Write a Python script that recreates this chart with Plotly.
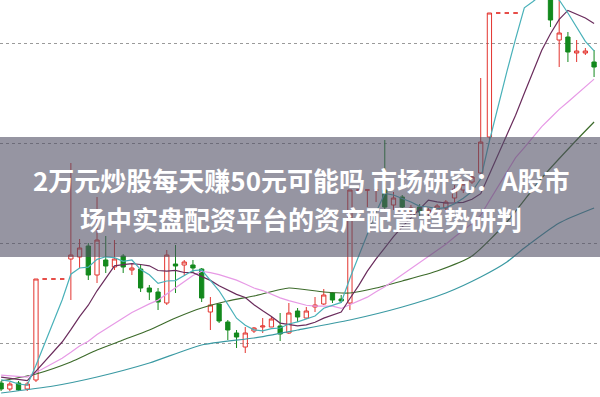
import plotly.graph_objects as go
import numpy as np

# ---------------- data ----------------
day = list(range(69))
open_ = [10.10, 10.04, 10.10, 10.04, 10.13, 11.14, 11.14, 11.14, 11.34, 11.36,
         11.47, 11.18, 11.33, 11.26, 11.37, 11.23, 11.24, 11.05, 11.01, 10.90,
         11.29, 11.28, 11.28, 11.24, 10.81, 10.89, 10.71, 10.60, 10.46, 10.62,
         10.66, 10.66, 10.67, 10.60, 10.82, 10.75, 10.86, 10.89, 11.00, 10.94,
         10.90, 12.03, 12.03, 12.03, 12.03, 11.88, 11.96, 11.81, 11.86, 11.80,
         11.81, 11.85, 11.95, 12.03, 12.11, 12.20, 12.56, 13.80, 13.80, 13.80,
         14.01, 14.07, 14.11, 14.03, 13.53, 13.56, 13.40, 13.40, 13.31]
high = [10.12, 10.11, 10.12, 10.11, 11.14, 11.14, 11.14, 11.14, 12.30, 11.54,
        11.50, 11.96, 11.57, 11.53, 11.39, 11.29, 11.28, 11.08, 11.05, 11.43,
        11.48, 11.33, 11.33, 11.25, 10.96, 10.89, 10.73, 10.63, 10.66, 10.66,
        10.75, 10.76, 10.80, 10.90, 10.85, 10.86, 10.96, 11.04, 11.01, 10.98,
        12.03, 12.03, 12.03, 12.03, 12.53, 12.01, 11.98, 11.88, 11.89, 11.85,
        11.89, 11.93, 12.08, 12.13, 12.18, 13.15, 13.80, 13.80, 13.80, 13.80,
        14.08, 14.15, 14.23, 14.08, 13.98, 13.61, 13.53, 13.45, 13.43]
low = [10.02, 10.02, 10.02, 10.02, 10.11, 11.14, 11.14, 11.14, 10.93, 11.25,
       11.13, 11.10, 11.20, 11.23, 11.20, 11.18, 11.01, 10.93, 10.83, 10.88,
       11.00, 11.18, 11.20, 10.91, 10.63, 10.70, 10.53, 10.45, 10.40, 10.60,
       10.60, 10.66, 10.52, 10.59, 10.71, 10.74, 10.81, 10.88, 10.90, 10.90,
       10.83, 12.03, 11.86, 11.91, 11.83, 11.83, 11.81, 11.78, 11.77, 11.76,
       11.79, 11.80, 11.91, 12.00, 12.09, 12.15, 12.53, 13.80, 13.80, 13.80,
       13.96, 14.03, 14.05, 13.66, 13.26, 13.31, 13.31, 13.38, 13.16]
close = [10.04, 10.09, 10.03, 10.09, 11.14, 11.14, 11.14, 11.14, 11.38, 11.45,
         11.18, 11.53, 11.27, 11.34, 11.26, 11.25, 11.05, 11.01, 10.91, 11.38,
         11.27, 11.31, 11.25, 10.95, 10.88, 10.72, 10.63, 10.56, 10.60, 10.65,
         10.67, 10.74, 10.59, 10.80, 10.76, 10.82, 10.88, 10.98, 10.93, 10.92,
         12.03, 12.03, 12.03, 12.03, 11.86, 11.95, 11.86, 11.85, 11.81, 11.83,
         11.87, 11.91, 12.04, 12.09, 12.16, 12.51, 13.80, 13.80, 13.80, 13.80,
         14.06, 14.12, 14.14, 13.73, 13.60, 13.41, 13.42, 13.42, 13.26]
# closes of the days just before the visible window (for the short averages)
prior_close = [10.20, 10.19, 10.21, 10.22, 10.20, 10.19, 10.20, 10.18, 10.19, 10.21,
               10.20, 10.18, 10.17, 10.19, 10.18, 10.16, 10.17, 10.15, 10.14]

# longer averages
ma30_day = [0, 4, 8, 11, 14, 17, 20, 23, 26, 29, 33, 37, 40, 43, 46, 50, 54, 58, 62, 66, 68]
ma30_val = [10.12, 10.19, 10.31, 10.43, 10.53, 10.63, 10.75, 10.85, 10.92, 10.97, 11.05,
            11.01, 11.00, 11.05, 11.12, 11.22, 11.37, 11.71, 12.15, 12.53, 12.71]
ma60_day = [0, 6, 11, 17, 23, 29, 34, 40, 46, 51, 55, 58, 60, 64, 68]
ma60_val = [10.00, 10.07, 10.16, 10.30, 10.48, 10.55, 10.63, 10.73, 10.86, 11.00,
            11.16, 11.31, 11.45, 11.70, 11.85]

grid_vals = [10.5, 11.5, 12.5, 13.5]
title_1 = "2万元炒股每天赚50元可能吗 市场研究：A股市"
title_2 = "场中实盘配资平台的资产配置趋势研判"

# ---------------- derived ----------------
allc = np.array(prior_close + close)
def ma(n):
    s = np.convolve(allc, np.ones(n) / n, mode="valid")
    return s[-len(close):]

RED = "#e3342f"
GREEN = "#13891d"

fig = go.Figure()

fig.add_trace(go.Scatter(x=ma60_day, y=ma60_val, mode="lines",
                         line=dict(color="#3b9aa3", width=1.2, shape="spline", smoothing=0.6)))
fig.add_trace(go.Scatter(x=ma30_day, y=ma30_val, mode="lines",
                         line=dict(color="#3d6b2b", width=1.2, shape="spline", smoothing=0.6)))
fig.add_trace(go.Scatter(x=day, y=ma(20), mode="lines",
                         line=dict(color="#e79ae6", width=1.2)))
fig.add_trace(go.Scatter(x=day, y=ma(10), mode="lines",
                         line=dict(color="#6a2c5c", width=1.2)))
fig.add_trace(go.Scatter(x=day, y=ma(5), mode="lines",
                         line=dict(color="#49b1b9", width=1.2)))

norm = [i for i in day if open_[i] != close[i]]
flat = [i for i in day if open_[i] == close[i]]

fig.add_trace(go.Candlestick(
    x=norm, open=[open_[i] for i in norm], high=[high[i] for i in norm],
    low=[low[i] for i in norm], close=[close[i] for i in norm],
    increasing=dict(line=dict(color=RED, width=1), fillcolor="rgba(255,255,255,0)"),
    decreasing=dict(line=dict(color=GREEN, width=1), fillcolor=GREEN),
    whiskerwidth=0))
fig.add_trace(go.Candlestick(
    x=flat, open=[open_[i] for i in flat], high=[high[i] for i in flat],
    low=[low[i] for i in flat], close=[close[i] for i in flat],
    increasing=dict(line=dict(color=RED, width=1), fillcolor=RED),
    decreasing=dict(line=dict(color=RED, width=1), fillcolor=RED),
    whiskerwidth=0))

fig.update_layout(
    width=600, height=397, margin=dict(l=0, r=0, t=0, b=0),
    paper_bgcolor="white", plot_bgcolor="white", showlegend=False,
    xaxis=dict(range=[-0.126, 68.68], showgrid=False, showticklabels=False,
               zeroline=False, showline=False, rangeslider=dict(visible=False), fixedrange=True),
    yaxis=dict(range=[9.96, 13.93], tickvals=grid_vals, showgrid=True,
               gridcolor="#9a9a9a", griddash="dot", gridwidth=1,
               showticklabels=False, zeroline=False, showline=False),
    shapes=[dict(type="rect", xref="paper", yref="paper", x0=0, x1=1,
                 y0=(397 - 257) / 397, y1=(397 - 137) / 397,
                 fillcolor="rgba(80,78,100,0.6)", line=dict(width=0), layer="above")],
    annotations=[
        dict(text="<b>" + title_1 + "</b>", xref="paper", yref="paper",
             x=301 / 600, y=(397 - 179) / 397, xanchor="center", yanchor="middle",
             showarrow=False, font=dict(family="Noto Sans CJK SC", size=26, color="white")),
        dict(text="<b>" + title_2 + "</b>", xref="paper", yref="paper",
             x=301 / 600, y=(397 - 219) / 397, xanchor="center", yanchor="middle",
             showarrow=False, font=dict(family="Noto Sans CJK SC", size=26, color="white")),
    ],
)

fig.write_html("out.html")
